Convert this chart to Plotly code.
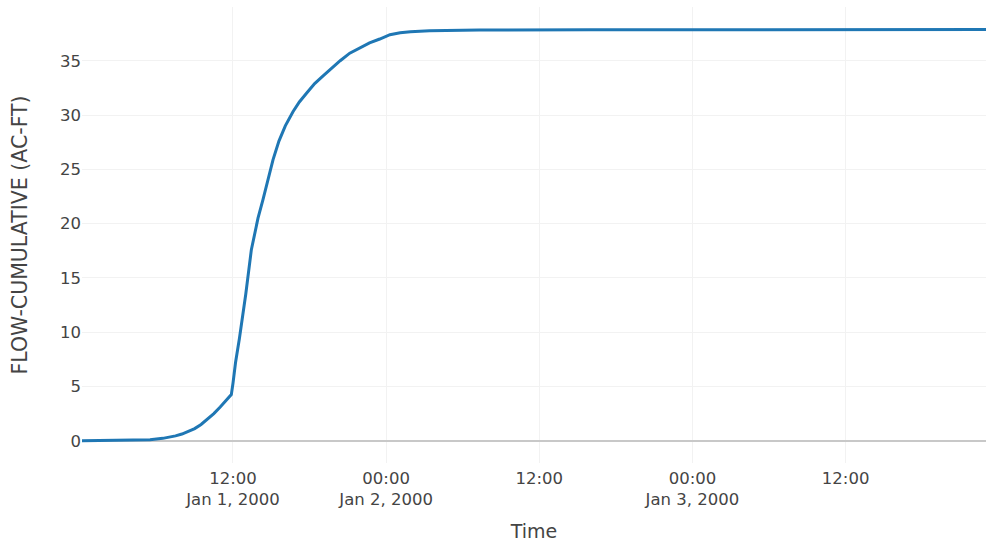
import pandas as pd
import plotly.graph_objects as go

# Cumulative flow volume, hours after 2000-01-01 00:00
hours = [0.17, 2.0, 4.0, 5.5, 6.5, 7.0, 7.5, 8.0, 8.5, 9.0, 9.5, 10.0, 10.5, 11.0,
         11.5, 11.87, 12.0, 12.2, 12.5, 13.0, 13.44, 13.96, 14.35, 14.75, 15.14, 15.6,
         16.1, 16.7, 17.2, 17.76, 18.4, 19.06, 19.6, 20.4, 21.15, 22.0, 22.7, 23.5,
         24.3, 25.1, 25.9, 27.4, 31.3, 40.0, 71.0]
flow_cum = [0.0, 0.02, 0.06, 0.1, 0.22, 0.33, 0.45, 0.62, 0.85, 1.12, 1.5, 1.98, 2.5, 3.1,
            3.75, 4.25, 5.3, 7.2, 9.4, 13.5, 17.6, 20.5, 22.2, 24.2, 25.9, 27.6,
            29.0, 30.3, 31.2, 32.0, 32.9, 33.6, 34.2, 35.0, 35.7, 36.25, 36.65, 37.0,
            37.4, 37.58, 37.68, 37.77, 37.83, 37.86, 37.87]

start = pd.Timestamp("2000-01-01 00:00")
times = [start + pd.Timedelta(hours=h) for h in hours]

fig = go.Figure(
    go.Scatter(
        x=times,
        y=flow_cum,
        mode="lines",
        line=dict(color="#1f77b4", width=3),
        showlegend=False,
    )
)

font_family = "DejaVu Sans"
fig.update_layout(
    width=986,
    height=546,
    margin=dict(l=82, r=0, t=7, b=83),
    paper_bgcolor="white",
    plot_bgcolor="white",
    font=dict(family=font_family, color="#444444", size=16.5),
    xaxis=dict(
        title=dict(text="Time", font=dict(size=19), standoff=16),
        range=[times[0], times[-1]],
        showgrid=True,
        gridcolor="#f2f2f2",
        zeroline=False,
        showline=False,
        ticklabelstandoff=3,
        tickfont=dict(size=16.5),
    ),
    yaxis=dict(
        title=dict(text="FLOW-CUMULATIVE (AC-FT)", font=dict(size=20.5), standoff=26),
        range=[-2.05, 39.95],
        showgrid=True,
        gridcolor="#f2f2f2",
        zeroline=True,
        zerolinecolor="#c8c8c8",
        zerolinewidth=2,
        showline=False,
        dtick=5,
        tickfont=dict(size=16.5),
    ),
)

fig.write_html("out.html")
